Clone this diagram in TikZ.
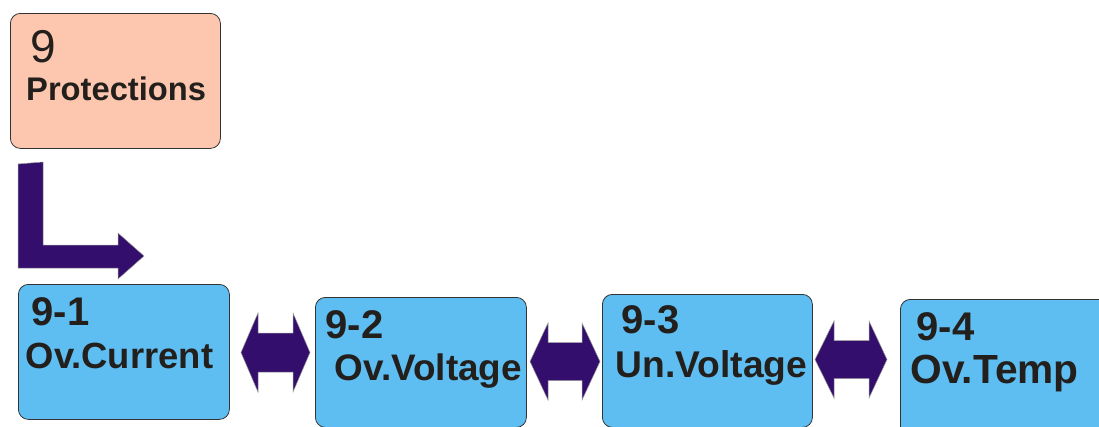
\documentclass[tikz,border=0pt]{standalone}
\usepackage{fontspec}
\setmainfont{Liberation Sans}
\definecolor{peach}{HTML}{FDC7AF}
\definecolor{skyb}{HTML}{5EBEF2}
\definecolor{purp}{HTML}{330E6C}
\definecolor{txt}{HTML}{231F1C}
\tikzset{
  box/.style={draw=black!80, line width=0.8pt, rounded corners=10pt, anchor=north west, inner sep=0pt},
  lbl/.style={anchor=base west, inner sep=0pt, text=txt, font=\bfseries},
  arr/.style={fill=purp, draw=black!40, line width=0.5pt},
}
\newcommand\dblarr[7]{% x1 x2 xs1 xs2 yc hh sh
  \fill[arr] (#1,#5) -- (#3,#5-#6) -- (#3,#5-#7) -- (#4,#5-#7) -- (#4,#5-#6) -- (#2,#5)
   -- (#4,#5+#6) -- (#4,#5+#7) -- (#3,#5+#7) -- (#3,#5+#6) -- cycle;}
\begin{document}
\begin{tikzpicture}[x=1pt,y=-1pt]
\useasboundingbox (0,0) rectangle (1099,426);
% boxes
\node[box, fill=peach, minimum width=210pt, minimum height=135pt] (b9) at (10,13) {};
\node[box, fill=skyb, minimum width=211pt, minimum height=135pt] (b1) at (18,284) {};
\node[box, fill=skyb, minimum width=211pt, minimum height=130pt] (b2) at (315,297) {};
\node[box, fill=skyb, minimum width=210pt, minimum height=133pt] (b3) at (602,294) {};
\node[box, fill=skyb, minimum width=210pt, minimum height=140pt] (b4) at (900,299) {};
% texts
\node[lbl, font=\fontsize{46}{50}\selectfont] (t9) at (30,62) {9};
\node[lbl, font=\bfseries\fontsize{32.7}{36}\selectfont] (t9b) at (26,100) {Protections};
\node[lbl, font=\bfseries\fontsize{40}{44}\selectfont] (t1) at (31.5,325) {9-1};
\node[lbl, font=\bfseries\fontsize{36.4}{40}\selectfont] (t1b) at (25.5,368) {Ov.Current};
\node[lbl, font=\bfseries\fontsize{40}{44}\selectfont] (t2) at (325.5,338) {9-2};
\node[lbl, font=\bfseries\fontsize{36.9}{40}\selectfont] (t2b) at (334.5,380) {Ov.Voltage};
\node[lbl, font=\bfseries\fontsize{40}{44}\selectfont] (t3) at (621.5,333) {9-3};
\node[lbl, font=\bfseries\fontsize{37.2}{40}\selectfont] (t3b) at (615.5,377) {Un.Voltage};
\node[lbl, font=\bfseries\fontsize{40}{44}\selectfont] (t4) at (916.5,340) {9-4};
\node[lbl, font=\bfseries\fontsize{40.7}{44}\selectfont] (t4b) at (910.5,383) {Ov.Temp};
% L arrow from 9 to 9-1
\fill[arr] (18,164) -- (43,162) -- (43,245) -- (118,245) -- (118,233) -- (144,256)
  -- (118,279) -- (118,268) -- (18,268) -- cycle;
% double arrows
\dblarr{241}{310}{258}{293}{352.5}{39.5}{19.5}
\dblarr{530}{600}{548}{582}{361.5}{38.5}{19}
\dblarr{815}{887}{834}{869}{359.5}{38.5}{19}
\end{tikzpicture}
\end{document}
